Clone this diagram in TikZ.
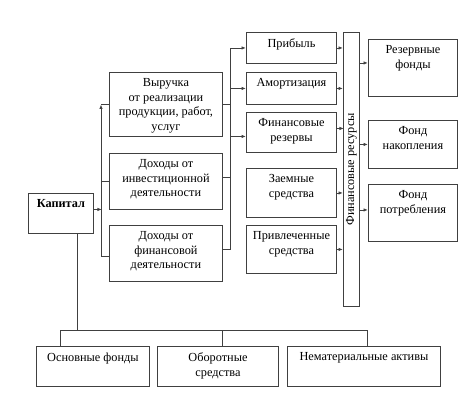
\documentclass[tikz,border=0pt]{standalone}
\usepackage{fontspec}
\setmainfont{Liberation Serif}
\usetikzlibrary{positioning,arrows.meta}
\colorlet{box edge}{black!75}
\tikzset{box/.style={draw=box edge, line width=0.9pt, anchor=north west, inner sep=0pt},
    txt/.style={align=center, inner sep=0pt, font=\fontsize{12.3}{14.6}\selectfont},
    link/.style={draw=box edge, line width=0.9pt},
    arr/.style={link, -{Latex[length=4.5pt,width=3.5pt]}}}
% name, x, y, width, height, text
\newcommand{\blk}[6]{%
  \node[box, minimum width=#4pt, minimum height=#5pt] (#1) at (#2,#3) {};
  \node[txt, below=6.5pt of #1.north] (#1-t) {#6};}

\begin{document}
\begin{tikzpicture}[x=1pt,y=-1pt]
\useasboundingbox (0,0) rectangle (474,407);

% boxes
\blk{kap}{28}{193}{65}{40}{\textbf{Капитал}}
\blk{vyr}{109}{72}{113}{64}{Выручка\\от реализации\\продукции, работ,\\услуг}
\blk{inv}{109}{153}{113}{56}{Доходы от\\инвестиционной\\деятельности}
\blk{fin}{109}{225}{113}{56}{Доходы от\\финансовой\\деятельности}
\blk{prib}{246}{32}{90}{31}{Прибыль}
\blk{amor}{246}{72}{90}{32}{Амортизация}
\blk{frez}{246}{112}{90}{40}{Финансовые\\резервы}
\blk{zaem}{246}{168}{90}{49}{Заемные\\средства}
\blk{priv}{246}{225}{90}{48}{Привлеченные\\средства}
\node[box, minimum width=16pt, minimum height=274pt] (res) at (343,32) {};
\node[txt, rotate=90] (res-t) at (res.center) {Финансовые ресурсы};
\blk{rez}{368}{39}{89}{57}{Резервные\\фонды}
\blk{nak}{368}{120}{89}{48}{Фонд\\накопления}
\blk{potr}{368}{184}{89}{57}{Фонд\\потребления}
\blk{osn}{36}{346}{113}{40}{Основные фонды}
\blk{obor}{157}{346}{121}{40}{Оборотные\\средства}
\blk{nemat}{287}{346}{153}{40}{Нематериальные активы}

% left bus
\coordinate (lbus) at (101,0);
\draw[arr] ([yshift=4pt]kap.east) -- ++(8,0);
\draw[arr] ([yshift=-3pt]fin.west) -| (lbus |- vyr.west);
\draw[link] (lbus |- vyr.west) -- (vyr.west);
\draw[link] (lbus |- inv.west) -- (inv.west);

% right bus
\coordinate (rbus) at (230,0);
\draw[link] (vyr.east) -| (rbus |- prib.west);
\draw[link] ([yshift=4pt]inv.east) -- ++(8,0);
\draw[link] ([yshift=4pt]fin.east) -| (rbus |- vyr.east);
\draw[arr] (rbus |- prib.west) -- (prib.west);
\draw[arr] (rbus |- amor.west) -- (amor.west);
\draw[arr] ([yshift=-4pt]frez.west) ++(-16,0) -- ++(16,0);

% into the resources bar
\draw[arr] (prib.east) -- (prib.east -| res.west);
\draw[arr] (amor.east) -- (amor.east -| res.west);
\draw[arr] ([yshift=4pt]frez.east) -- ++(7,0);
\draw[arr] (zaem.east) -- (zaem.east -| res.west);
\draw[arr] (priv.east) -- (priv.east -| res.west);

% out of the resources bar
\draw[arr] ([yshift=5pt]rez.west) ++(-9,0) -- ++(9,0);
\draw[arr] (nak.west -| res.east) -- (nak.west);
\draw[arr] ([yshift=3pt]potr.west) ++(-9,0) -- ++(9,0);

% assets
\draw[link] ([xshift=16.5pt]kap.south) -- ++(0,97);
\draw[link] ([xshift=-32.5pt]osn.north) -- ++(0,-16) -| ([xshift=3.5pt]nemat.north);
\draw[link] ([xshift=4.5pt]obor.north) -- ++(0,-16);

\end{tikzpicture}
\end{document}
